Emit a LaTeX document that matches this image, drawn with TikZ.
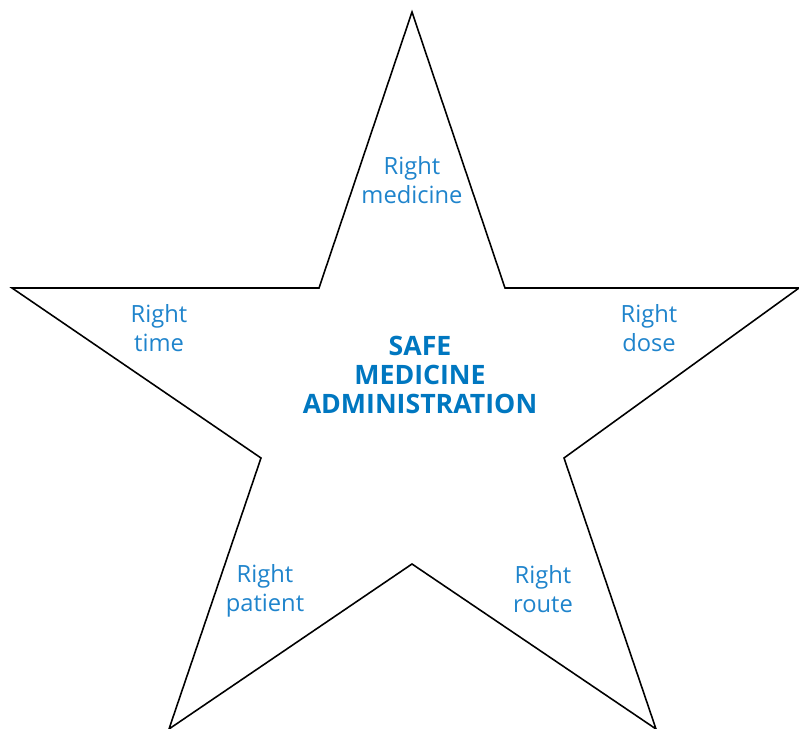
\documentclass[tikz,border=0pt]{standalone}
\usepackage{fontspec}
\setmainfont{Open Sans}
\definecolor{rightblue}{HTML}{1F84CC}
\definecolor{safeblue}{HTML}{0077C0}
\tikzset{
    rightlabel/.style={text=rightblue, align=center, font=\fontsize{13.5}{16.5}\selectfont},
    safelabel/.style={text=safeblue, align=center, font=\fontsize{15.2}{16.5}\selectfont\bfseries},
}
\begin{document}
\begin{tikzpicture}[x=0.02cm, y=-0.02cm]
    \useasboundingbox (0,0) rectangle (799,729);
    % star outline
    \coordinate (top) at (412,12);
    \coordinate (ir) at (505,288);
    \coordinate (right) at (799,288);
    \coordinate (lr) at (564,458);
    \coordinate (br) at (656,729);
    \coordinate (bot) at (412,564);
    \coordinate (bl) at (169,729);
    \coordinate (ll) at (261,458);
    \coordinate (left) at (12,288);
    \coordinate (il) at (319,288);
    \draw [line width=0.9pt, line join=miter] (top) -- (ir) -- (right) -- (lr) -- (br) -- (bot) -- (bl) -- (ll) -- (left) -- (il) -- cycle;
    % labels
    \node [safelabel] (safe) at (420,375) {SAFE\\MEDICINE\\ADMINISTRATION};
    \node [rightlabel] (medicine) at (412,180) {Right\\medicine};
    \node [rightlabel] (time) at (159,328) {Right\\time};
    \node [rightlabel] (dose) at (649,328) {Right\\dose};
    \node [rightlabel] (patient) at (265,591) {Right\\patient};
    \node [rightlabel] (route) at (543,589) {Right\\route};
\end{tikzpicture}
\end{document}
